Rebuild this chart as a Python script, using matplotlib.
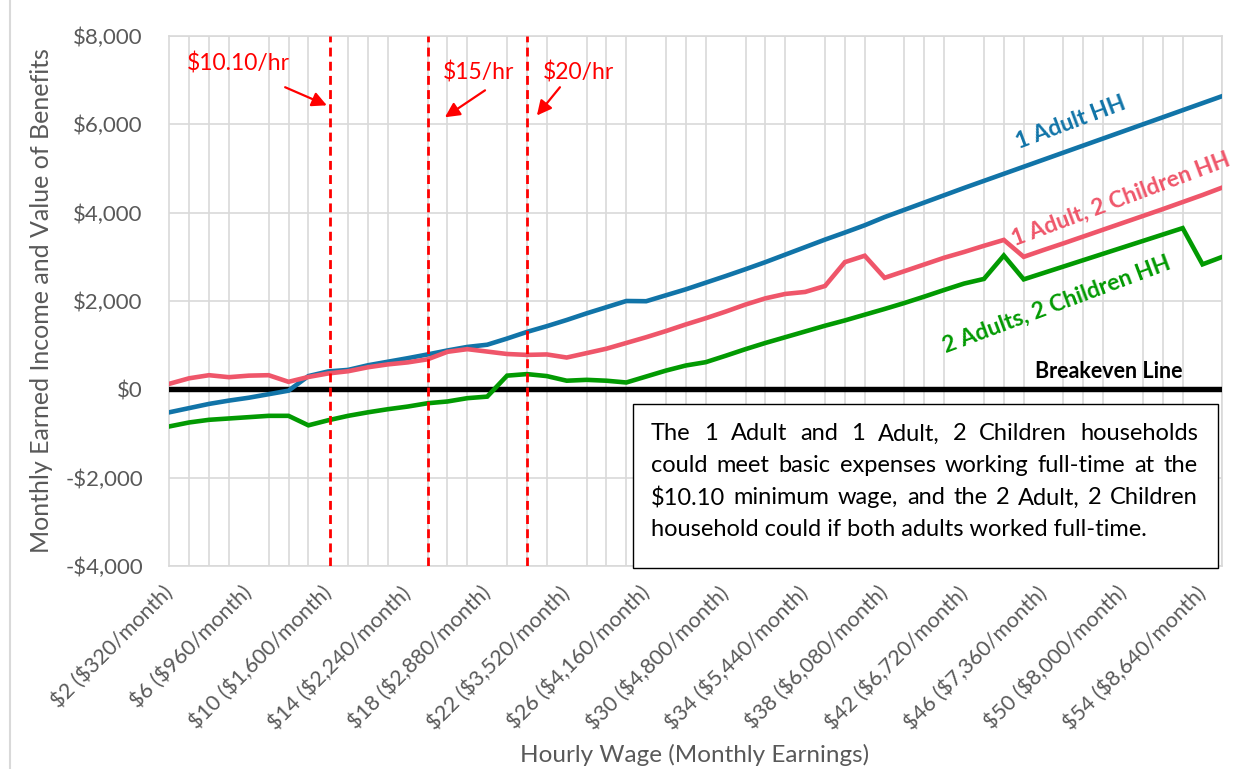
import matplotlib
matplotlib.use('Agg')
import matplotlib.pyplot as plt
from matplotlib.patches import Rectangle
from matplotlib.lines import Line2D
from matplotlib.ticker import FuncFormatter

plt.rcParams['font.family'] = ['Lato', 'DejaVu Sans']
plt.rcParams['text.parse_math'] = False

# ---------------- data ----------------
wages = list(range(2, 56))  # hourly wage categories ($2 .. $55)

one_adult = [-520, -425, -330, -255, -190, -110, -30, 300, 405, 440,
             545, 625, 705, 790, 880, 960, 1010, 1150, 1300, 1430,
             1570, 1720, 1860, 2000, 1995, 2130, 2265, 2415, 2565, 2720,
             2880, 3050, 3220, 3390, 3550, 3715, 3900, 4065, 4230, 4395,
             4560, 4720, 4880, 5040, 5200, 5360, 5520, 5680, 5840, 6000,
             6160, 6320, 6480, 6640]

one_adult_two_children = [125, 250, 320, 275, 310, 320, 170, 280, 360, 410,
                          500, 565, 610, 680, 850, 910, 855, 800, 780, 790,
                          720, 820, 920, 1050, 1180, 1320, 1470, 1610, 1760, 1920,
                          2060, 2160, 2205, 2340, 2880, 3025, 2525, 2676, 2828, 2980,
                          3110, 3250, 3383, 3000, 3155, 3305, 3460, 3615, 3770, 3925,
                          4080, 4240, 4400, 4570]

two_adults_two_children = [-840, -750, -690, -660, -630, -600, -600, -815, -700, -600,
                           -520, -450, -390, -315, -275, -200, -165, 310, 345, 300,
                           195, 215, 195, 155, 290, 425, 540, 615, 760, 910,
                           1050, 1180, 1310, 1440, 1560, 1690, 1820, 1955, 2100, 2250,
                           2395, 2500, 3030, 2490, 2635, 2780, 2925, 3070, 3215, 3360,
                           3505, 3650, 2830, 3000]

tick_wages = [2, 6, 10, 14, 18, 22, 26, 30, 34, 38, 42, 46, 50, 54]
tick_labels = ["$2 ($320/month)", "$6 ($960/month)", "$10 ($1,600/month)",
               "$14 ($2,240/month)", "$18 ($2,880/month)", "$22 ($3,520/month)",
               "$26 ($4,160/month)", "$30 ($4,800/month)", "$34 ($5,440/month)",
               "$38 ($6,080/month)", "$42 ($6,720/month)", "$46 ($7,360/month)",
               "$50 ($8,000/month)", "$54 ($8,640/month)"]

wage_markers = [10.10, 15, 20]
wage_marker_labels = ["$10.10/hr", "$15/hr", "$20/hr"]

box_lines = ["The 1 Adult and 1 Adult, 2 Children households",
             "could meet basic expenses working full-time at the",
             "$10.10 minimum wage, and the 2 Adult, 2 Children",
             "household could if both adults worked full-time."]

# ---------------- style ----------------
W, H = 1254, 769
BLUE = '#1174A8'
PINK = '#EF566A'
GREEN = '#029A02'
GRID = '#D9D9D9'
TXT = '#595959'

fig = plt.figure(figsize=(W / 100, H / 100), dpi=100)
ax_l, ax_r, ax_t, ax_b = 169.3, 1222.4, 36, 566
ax = fig.add_axes([ax_l / W, 1 - ax_b / H, (ax_r - ax_l) / W, (ax_b - ax_t) / H])

ax.set_xlim(wages[0], wages[-1])
ax.set_ylim(-4000, 8000)
ax.set_yticks(range(-4000, 8001, 2000))
ax.set_xticks(tick_wages)
ax.set_xticks(wages, minor=True)
ax.set_xticklabels(tick_labels, rotation=45, ha='right', va='center',
                   rotation_mode='anchor', fontsize=15.5, color=TXT)
ax.yaxis.set_major_formatter(FuncFormatter(
    lambda v, p: ('-$' if v < 0 else '$') + f"{abs(int(v)):,}"))
ax.tick_params(axis='y', length=0, pad=19, labelsize=16, labelcolor=TXT)
ax.tick_params(axis='x', which='both', length=0, pad=17)
ax.grid(True, axis='x', which='minor', color=GRID, lw=1.2, zorder=0)
ax.grid(True, axis='y', which='major', color=GRID, lw=1.2, zorder=0)
ax.set_axisbelow(True)
for s in ax.spines.values():
    s.set_color(GRID)
    s.set_linewidth(1.2)

# breakeven line
ax.axhline(0, color='black', lw=3.9, zorder=3)

ax.plot(wages, one_adult, color=BLUE, lw=3.3, zorder=4, solid_joinstyle='miter')
ax.plot(wages, one_adult_two_children, color=PINK, lw=3.3, zorder=4, solid_joinstyle='miter')
ax.plot(wages, two_adults_two_children, color=GREEN, lw=3.3, zorder=4, solid_joinstyle='miter')

for w in wage_markers:
    ax.axvline(w, color='#FF0000', lw=2.0, dashes=(3.2, 1.9), zorder=5)

# annotations for wage markers
ann = [((5.46, 7380), (7.83, 6840), (9.93, 6430)),
       ((17.54, 7180), (17.89, 6770), (15.87, 6160)),
       ((22.57, 7180), (21.66, 6840), (20.50, 6200))]
for lab, (tpos, tail, tip) in zip(wage_marker_labels, ann):
    ax.text(tpos[0], tpos[1], lab, color='#FF0000', fontsize=16.5,
            ha='center', va='center', zorder=6)
    ax.annotate('', xy=tip, xytext=tail,
                arrowprops=dict(arrowstyle='-|>', color='#FF0000', lw=1.6,
                                mutation_scale=22, shrinkA=0, shrinkB=0),
                zorder=6)

# series labels
ax.text(47.38, 6030, '1 Adult HH', color=BLUE, fontsize=16.5, fontweight='bold',
        rotation=20.5, rotation_mode='anchor', ha='center', va='center', zorder=6)
ax.text(49.9, 4300, '1 Adult, 2 Children HH', color=PINK, fontsize=16.5, fontweight='bold',
        rotation=20.5, rotation_mode='anchor', ha='center', va='center', zorder=6)
ax.text(46.68, 1930, '2 Adults, 2 Children HH', color=GREEN, fontsize=16.5, fontweight='bold',
        rotation=20.5, rotation_mode='anchor', ha='center', va='center', zorder=6)
ax.text(49.29, 400, 'Breakeven Line', color='black', fontsize=15.5, fontweight='bold',
        ha='center', va='center', zorder=6)

# axis titles
fig.text(695 / W, 1 - 755 / H, 'Hourly Wage (Monthly Earnings)', fontsize=17.5,
         color=TXT, ha='center', va='center')
fig.text(42 / W, 1 - 301 / H, 'Monthly Earned Income and Value of Benefits',
         fontsize=18, color=TXT, rotation=90, ha='center', va='center')

# chart-area left border
fig.add_artist(Line2D([10 / W, 10 / W], [0, 1], color=GRID, lw=1.5))

# text box
bx0, bx1, by0, by1 = 633, 1218, 404, 568
fig.add_artist(Rectangle((bx0 / W, 1 - by1 / H), (bx1 - bx0) / W, (by1 - by0) / H,
                         transform=fig.transFigure, facecolor='white',
                         edgecolor='black', lw=1.0, zorder=10))
renderer = fig.canvas.get_renderer()
tx0, tx1 = 651, 1198
ycs = [434, 466, 498, 529]
fs = 17.0
# shrink font until the widest line fits in the box
while fs > 10:
    probe = [fig.text(0, 0, ln, fontsize=fs) for ln in box_lines]
    wmax = max(p.get_window_extent(renderer).width for p in probe)
    for p in probe:
        p.remove()
    if wmax <= (tx1 - tx0) - 4:
        break
    fs -= 0.25

for i, (ln, yc) in enumerate(zip(box_lines, ycs)):
    if i == len(box_lines) - 1:
        fig.text(tx0 / W, 1 - yc / H, ln, fontsize=fs, ha='left', va='center', zorder=11)
        continue
    words = ln.split(' ')
    ts = [fig.text(0, 0, wd, fontsize=fs, ha='left', va='center', zorder=11) for wd in words]
    widths = [tt.get_window_extent(renderer).width for tt in ts]
    gap = (tx1 - tx0 - sum(widths)) / (len(words) - 1)
    x = tx0
    for tt, wd in zip(ts, widths):
        tt.set_position((x / W, 1 - yc / H))
        x += wd + gap

fig.savefig('out.png', dpi=100, facecolor='white')
